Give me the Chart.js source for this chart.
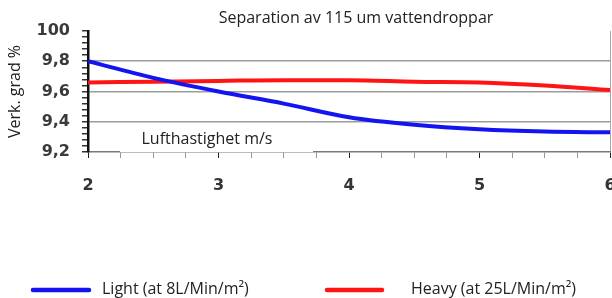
<!DOCTYPE html>
<html>
<head>
<meta charset="utf-8">
<script src="https://cdn.jsdelivr.net/npm/chart.js@4.4.1/dist/chart.umd.min.js"></script>
<style>
    body { margin: 0; background: #fff; }
    #wrap { width: 612px; height: 298px; position: relative; }
</style>
</head>
<body>
<div id="wrap"><canvas id="sepChart"></canvas></div>
<script>
// Data
const airSpeed = [2, 2.5, 3, 3.5, 4, 4.5, 5, 5.5, 6];
const lightLoad = [9.80, 9.69, 9.60, 9.52, 9.43, 9.38, 9.35, 9.335, 9.33];
const heavyLoad = [9.66, 9.665, 9.67, 9.675, 9.675, 9.665, 9.66, 9.64, 9.61];
const seriesNames = ['Light (at 8L/Min/m\u00B2)', 'Heavy (at 25L/Min/m\u00B2)'];
const seriesColors = ['#1414f0', '#ff1414'];
const yMajor = [9.4, 9.6, 9.8];
const chartTitle = 'Separation av 115 um vattendroppar';
const xTitle = 'Lufthastighet m/s';
const yTitle = 'Verk. grad %';

const textFont = '"Open Sans", sans-serif';
const numFont = '"DejaVu Sans", sans-serif';

function isStep(v, step) {
    const r = v / step;
    return Math.abs(r - Math.round(r)) < 1e-6;
}

// Format y label: 10 -> "100", others with comma
function formatY(v) {
    if (!isStep(v, 0.2)) return '';
    if (Math.abs(v - 10) < 1e-6) return '100';
    return v.toFixed(1).replace('.', ',');
}

// Title, text box and legend drawn on top
const decorPlugin = {
    id: 'decor',
    beforeDatasetsDraw(chart) {
        const ctx = chart.ctx;
        const area = chart.chartArea;
        ctx.save();
        ctx.fillStyle = '#fff';
        ctx.fillRect(area.left + 32, area.bottom - 24, 193, 24);
        ctx.fillStyle = '#222';
        ctx.font = '16px ' + textFont;
        ctx.textAlign = 'center';
        ctx.textBaseline = 'middle';
        ctx.fillText(xTitle, area.left + 119, area.bottom - 13);
        ctx.restore();
    },
    afterDraw(chart) {
        const ctx = chart.ctx;
        ctx.save();
        ctx.fillStyle = '#222';
        ctx.font = '16px ' + textFont;
        ctx.textAlign = 'center';
        ctx.textBaseline = 'middle';
        ctx.fillText(chartTitle, 356, 18);

        // legend
        const items = [
            { x0: 33, x1: 89, tx: 102 },
            { x0: 327, x1: 382, tx: 411 }
        ];
        const ly = 290;
        chart.data.datasets.forEach((ds, i) => {
            const it = items[i];
            ctx.strokeStyle = ds.borderColor;
            ctx.lineWidth = 4.5;
            ctx.lineCap = 'round';
            ctx.beginPath();
            ctx.moveTo(it.x0, ly);
            ctx.lineTo(it.x1, ly);
            ctx.stroke();
            ctx.fillStyle = '#222';
            ctx.textAlign = 'left';
            ctx.fillText(ds.label, it.tx, ly - 1);
        });
        ctx.restore();
    }
};

const ctx = document.getElementById('sepChart').getContext('2d');
new Chart(ctx, {
    type: 'line',
    data: {
        datasets: [lightLoad, heavyLoad].map((vals, i) => ({
            label: seriesNames[i],
            data: airSpeed.map((x, j) => ({ x: x, y: vals[j] })),
            borderColor: seriesColors[i],
            backgroundColor: seriesColors[i],
            borderWidth: 4,
            pointRadius: 0,
            tension: 0.3,
            cubicInterpolationMode: 'monotone'
        }))
    },
    options: {
        responsive: true,
        maintainAspectRatio: false,
        animation: false,
        layout: { padding: { top: 31, right: 2, bottom: 106, left: 0 } },
        plugins: {
            legend: { display: false },
            title: { display: false },
            tooltip: { enabled: false }
        },
        scales: {
            x: {
                type: 'linear',
                min: 2,
                max: 6,
                afterFit: function(scale) {
                    scale.height = 40;
                    scale.paddingLeft = 0;
                    scale.paddingRight = 0;
                },
                border: { color: '#7a7a7a', width: 1.5 },
                grid: {
                    drawOnChartArea: true,
                    tickLength: 6,
                    color: function(c) {
                        return c.tick && Math.abs(c.tick.value - 6) < 1e-6 ? '#a8a8a8' : 'rgba(0,0,0,0)';
                    },
                    tickColor: function(c) {
                        return c.tick && isStep(c.tick.value, 1) ? '#222' : '#999';
                    }
                },
                ticks: {
                    stepSize: 0.25,
                    autoSkip: false,
                    maxRotation: 0,
                    padding: 18,
                    color: '#333',
                    font: { family: numFont, size: 16, weight: 'bold' },
                    callback: function(v) {
                        return isStep(v, 1) ? String(Math.round(v)) : '';
                    }
                }
            },
            y: {
                min: 9.2,
                max: 10,
                afterFit: function(scale) {
                    scale.width = 88;
                },
                border: { color: '#111', width: 2.5 },
                grid: {
                    tickLength: 6,
                    lineWidth: 1.5,
                    color: function(c) {
                        if (!c.tick) return 'rgba(0,0,0,0)';
                        return yMajor.some(m => Math.abs(m - c.tick.value) < 1e-6) ? '#9c9c9c' : 'rgba(0,0,0,0)';
                    },
                    tickColor: '#333'
                },
                ticks: {
                    stepSize: 0.04,
                    autoSkip: false,
                    padding: 12,
                    color: '#3a3a3a',
                    font: { family: numFont, size: 16, weight: 'bold' },
                    callback: formatY
                },
                title: {
                    display: true,
                    text: yTitle,
                    color: '#222',
                    font: { family: textFont, size: 16 },
                    padding: { top: 6, bottom: 0 }
                }
            }
        }
    },
    plugins: [decorPlugin]
});
</script>
</body>
</html>
